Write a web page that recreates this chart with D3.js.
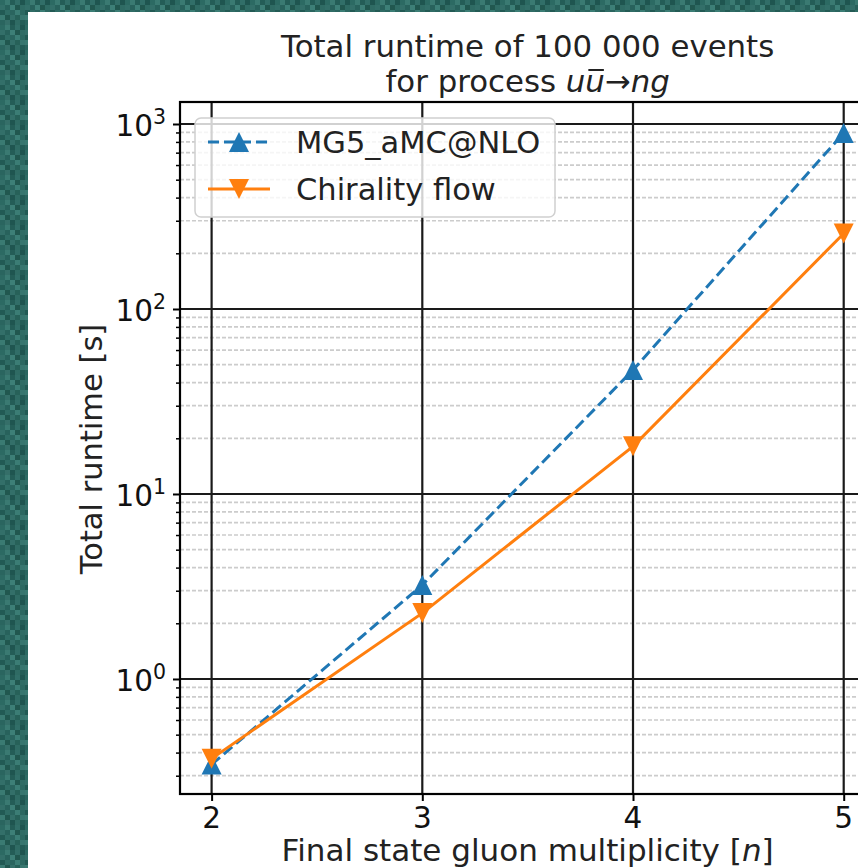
<!DOCTYPE html>
<html>
<head>
<meta charset="utf-8">
<script src="https://cdn.jsdelivr.net/npm/d3@7/dist/d3.min.js"></script>
<style>
  html, body { margin: 0; padding: 0; background: #2c6a63; }
  svg { display: block; }
  text { font-family: "DejaVu Sans", sans-serif; fill: #000; }
</style>
</head>
<body>
<script>
// Gluon multiplicity n in u ubar -> n g
const multiplicity = [2, 3, 4, 5];
// Total runtime [s] for 100 000 events
const mg5Runtime = [0.345, 3.22, 46.8, 894];
const chiralityRuntime = [0.371, 2.27, 18.1, 256];
const seriesNames = ["MG5_aMC@NLO", "Chirality flow"];
const majorTicks = [1, 10, 100, 1000];
const xTicks = [2, 3, 4, 5];

const W = 858, H = 868;
const svg = d3.select("body").append("svg").attr("width", W).attr("height", H);

// mottled teal backdrop behind the white page
const defs = svg.append("defs");
const pat = defs.append("pattern").attr("id", "tex").attr("patternUnits", "userSpaceOnUse")
  .attr("width", 25).attr("height", 25);
const cells = [
  ["#2c6a63", "#3a7a72", "#245d57", "#316e68", "#1f5550"],
  ["#336f69", "#28625c", "#3d7f77", "#21574f", "#2f6b64"],
  ["#225a54", "#2f6c65", "#2a655f", "#3b7d75", "#2c6861"],
  ["#3a7a72", "#21574f", "#336f69", "#276159", "#38766f"],
  ["#2a655f", "#356f69", "#1f5550", "#2f6b64", "#245d57"]
];
cells.forEach((row, r) => row.forEach((c, k) =>
  pat.append("rect").attr("x", k * 5).attr("y", r * 5).attr("width", 5).attr("height", 5).attr("fill", c)));
svg.append("rect").attr("width", W).attr("height", H).attr("fill", "url(#tex)");
svg.append("rect").attr("x", 28).attr("y", 12).attr("width", W - 28).attr("height", H - 12).attr("fill", "#fff");

// plot area
const plotLeft = 180, plotTop = 102, plotBottom = 794;
const x = d3.scaleLinear().domain([1.85, 5.15]).range([plotLeft, plotLeft + 3.3 * 210.7]);
const y = d3.scaleLog().domain([0.2389, 1315]).range([plotBottom, plotTop]);
const plotRight = x.range()[1];

const g = svg.append("g");

// minor grid (2..9 x 10^k)
const minorTicks = y.ticks().filter(v => !majorTicks.includes(v) && v >= y.domain()[0] && v <= y.domain()[1]);
g.append("g").selectAll("line").data(minorTicks).join("line")
  .attr("x1", plotLeft).attr("x2", plotRight)
  .attr("y1", d => y(d)).attr("y2", d => y(d))
  .attr("stroke", "#cccccc").attr("stroke-width", 1.7).attr("stroke-dasharray", "4,2");

// major grid
g.append("g").selectAll("line").data(majorTicks).join("line")
  .attr("x1", plotLeft).attr("x2", plotRight)
  .attr("y1", d => y(d)).attr("y2", d => y(d))
  .attr("stroke", "#1a1a1a").attr("stroke-width", 2.2);
g.append("g").selectAll("line").data(xTicks).join("line")
  .attr("x1", d => x(d)).attr("x2", d => x(d))
  .attr("y1", plotTop).attr("y2", plotBottom)
  .attr("stroke", "#1a1a1a").attr("stroke-width", 2.2);

// y axis with log ticks
const yAxis = d3.axisLeft(y).tickValues(majorTicks).tickSize(7).tickFormat("");
const ya = g.append("g").attr("transform", `translate(${plotLeft},0)`).call(yAxis);
ya.select(".domain").remove();
ya.selectAll(".tick line").attr("stroke", "#000").attr("stroke-width", 2);
const yMinor = d3.axisLeft(y).tickValues(minorTicks).tickSize(4).tickFormat("");
const ym = g.append("g").attr("transform", `translate(${plotLeft},0)`).call(yMinor);
ym.select(".domain").remove();
ym.selectAll(".tick line").attr("stroke", "#000").attr("stroke-width", 1.5);

const yLab = g.append("g").selectAll("text").data(majorTicks).join("text")
  .attr("x", 166).attr("y", d => y(d) + 12)
  .attr("text-anchor", "end").style("font-size", "29.5px").style("fill", "#111");
yLab.append("tspan").text("10");
yLab.append("tspan").attr("dy", -12).style("font-size", "20.5px").text(d => Math.round(Math.log10(d)));

// x axis
const xAxis = d3.axisBottom(x).tickValues(xTicks).tickSize(7).tickFormat("");
const xa = g.append("g").attr("transform", `translate(0,${plotBottom})`).call(xAxis);
xa.select(".domain").remove();
xa.selectAll(".tick line").attr("stroke", "#000").attr("stroke-width", 2);
g.append("g").selectAll("text").data(xTicks).join("text")
  .attr("x", d => x(d)).attr("y", 828).attr("text-anchor", "middle")
  .style("font-size", "29.5px").style("fill", "#111").text(d => d);

// spines
g.append("rect").attr("x", plotLeft).attr("y", plotTop)
  .attr("width", plotRight - plotLeft).attr("height", plotBottom - plotTop)
  .attr("fill", "none").attr("stroke", "#000").attr("stroke-width", 2.2);

// series
const line = d3.line().x((d, i) => x(multiplicity[i])).y(d => y(d));
g.append("path").datum(mg5Runtime).attr("d", line)
  .attr("fill", "none").attr("stroke", "#1f77b4").attr("stroke-width", 3).attr("stroke-dasharray", "11,5");
g.append("path").datum(chiralityRuntime).attr("d", line)
  .attr("fill", "none").attr("stroke", "#ff7f0e").attr("stroke-width", 3);

const ms = 10; // half marker size
const triUp = `M0,${-ms}L${-ms},${ms}L${ms},${ms}Z`;
const triDown = `M0,${ms}L${-ms},${-ms}L${ms},${-ms}Z`;
g.append("g").selectAll("path").data(mg5Runtime).join("path")
  .attr("d", triUp).attr("fill", "#1f77b4")
  .attr("transform", (d, i) => `translate(${x(multiplicity[i])},${y(d)})`);
g.append("g").selectAll("path").data(chiralityRuntime).join("path")
  .attr("d", triDown).attr("fill", "#ff7f0e")
  .attr("transform", (d, i) => `translate(${x(multiplicity[i])},${y(d)})`);

// legend
const lg = svg.append("g");
lg.append("rect").attr("x", 195).attr("y", 118).attr("width", 360).attr("height", 99).attr("rx", 6)
  .attr("fill", "#fff").attr("fill-opacity", 0.8).attr("stroke", "#d0d0d0").attr("stroke-width", 1.5);
const legendItems = [
  { name: seriesNames[0], color: "#1f77b4", dash: "11,5", marker: triUp, cy: 142 },
  { name: seriesNames[1], color: "#ff7f0e", dash: null, marker: triDown, cy: 189 }
];
legendItems.forEach(it => {
  lg.append("line").attr("x1", 208).attr("x2", 270).attr("y1", it.cy).attr("y2", it.cy)
    .attr("stroke", it.color).attr("stroke-width", 3).attr("stroke-dasharray", it.dash);
  lg.append("path").attr("d", it.marker).attr("fill", it.color)
    .attr("transform", `translate(239,${it.cy})`);
  lg.append("text").attr("x", 296).attr("y", it.cy + 11).style("font-size", "30.5px").style("fill", "#222").text(it.name);
});

// axis labels
const cx = (plotLeft + plotRight) / 2;
svg.append("text").attr("x", cx).attr("y", 861).attr("text-anchor", "middle")
  .style("font-size", "31px").style("fill", "#222")
  .call(t => {
    t.append("tspan").text("Final state gluon multiplicity [");
    t.append("tspan").style("font-style", "italic").text("n");
    t.append("tspan").text("]");
  });
svg.append("text").attr("transform", `translate(102,${(plotTop + plotBottom) / 2 + 1}) rotate(-90)`)
  .attr("text-anchor", "middle").style("font-size", "30.5px").style("fill", "#222")
  .text("Total runtime [s]");

// title
svg.append("text").attr("x", cx).attr("y", 57).attr("text-anchor", "middle")
  .style("font-size", "30.8px").style("fill", "#222").text("Total runtime of 100 000 events");
const t2 = svg.append("text").attr("x", cx).attr("y", 92).attr("text-anchor", "middle")
  .style("font-size", "30.8px").style("fill", "#222");
t2.append("tspan").text("for process ");
t2.append("tspan").style("font-style", "italic").text("uu");
t2.append("tspan").text("\u2192");
t2.append("tspan").style("font-style", "italic").text("ng");
// bar over the antiquark
const ext = t2.node().getExtentOfChar(13);
svg.append("line").attr("x1", ext.x + 3).attr("x2", ext.x + ext.width - 1)
  .attr("y1", 70).attr("y2", 70).attr("stroke", "#222").attr("stroke-width", 2);
</script>
</body>
</html>
